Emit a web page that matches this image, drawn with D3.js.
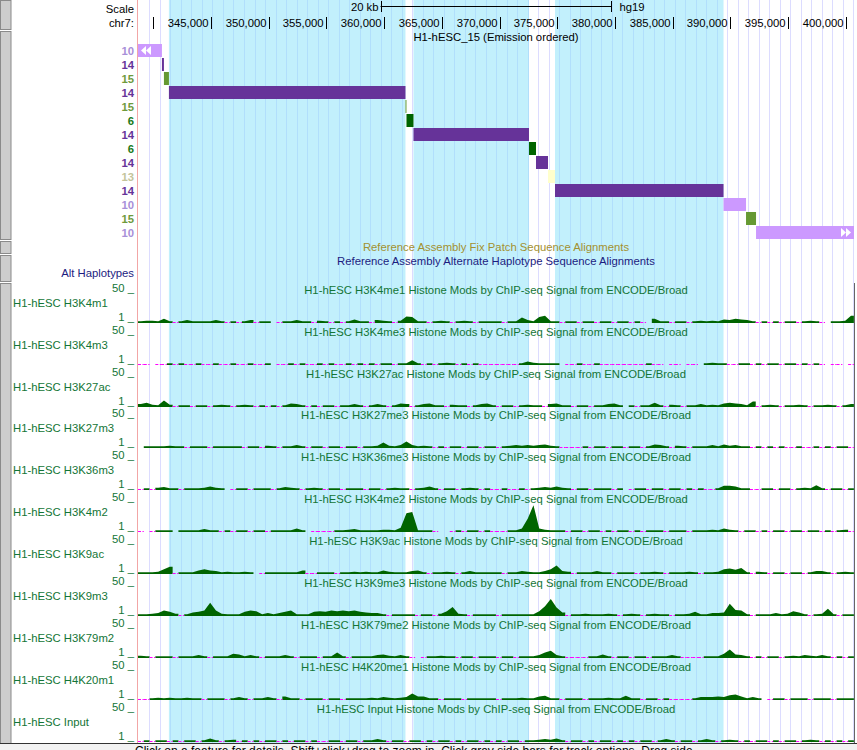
<!DOCTYPE html>
<html><head><meta charset="utf-8">
<script src="https://cdn.jsdelivr.net/npm/d3@7"></script>
<style>
html,body{margin:0;padding:0;background:#fff;}
svg{display:block;font-family:"Liberation Sans",Arial,Helvetica,sans-serif;}
</style></head><body>
<svg id="c" width="857" height="750"></svg>
<script>
// ---------------- data ----------------
const chromName = "chr7:";
const assembly = "hg19";
const viewStart = 338690, viewEnd = 400700;
const rulerTicks = [340000,345000,350000,355000,360000,365000,370000,375000,380000,385000,390000,395000,400000];
const scaleBarKb = 20;
const guideStart = 339680, guideStep = 910;

const stateTrackTitle = "H1-hESC_15 (Emission ordered)";
const stateRows   = [10, 14, 15, 14, 15, 6, 14, 6, 14, 13, 14, 10, 15, 10];
const stateStarts = [337000, 340763, 340936, 341369, 361855, 361942, 362548, 372552, 373159, 374198, 374805, 389400, 391349, 392215];
const stateEnds   = [340763, 340936, 341369, 361855, 361942, 362548, 372552, 373159, 374198, 374805, 389400, 391349, 392215, 402000];
const stateColors = {6:"#006400", 10:"#cc99ff", 13:"#ffffcc", 14:"#663399", 15:"#669933"};
const stateLabelColors = {6:"#1a7a1a", 10:"#a88fd8", 13:"#c4c49a", 14:"#663399", 15:"#6f9a3c"};

const highlightStarts = [341369, 362548, 374805];
const highlightEnds   = [361855, 372552, 389400];

const fixPatchTitle = "Reference Assembly Fix Patch Sequence Alignments";
const altHapTitle = "Reference Assembly Alternate Haplotype Sequence Alignments";
const altHapLabel = "Alt Haplotypes";

const trackLabels = ["H1-hESC H3K4m1","H1-hESC H3K4m3","H1-hESC H3K27ac","H1-hESC H3K27m3","H1-hESC H3K36m3","H1-hESC H3K4m2","H1-hESC H3K9ac","H1-hESC H3K9m3","H1-hESC H3K79m2","H1-hESC H4K20m1","H1-hESC Input"];
const trackMarks = ["H3K4me1","H3K4me3","H3K27ac","H3K27me3","H3K36me3","H3K4me2","H3K9ac","H3K9me3","H3K79me2","H4K20me1","Input"];
const viewMin = 1, viewMax = 50;

// signal in 500 bp bins from viewStart; 0 = below view minimum, null = no data
const binSize = 500;
const sigH3K4me1 = [3,4,4,3,7,3,0,3,5,3, 3,2,3,5,3,0,3,0,3,5, 0,3,3,null,0,3,3,5,3,3, 0,4,3,0,3,0,3,6,3,3,
  0,5,4,3,0,4,11,10,3,3, 0,3,4,3,0,3,4,3,0,3, 3,3,3,0,3,3,9,5,3,10, 12,3,3,0,3,3,0,3,3,0,
  3,3,0,3,3,0,3,0,null,7, 3,3,0,3,3,0,3,4,3,4, 3,6,5,7,6,5,3,0,3,0, 3,0,3,3,0,3,4,3,0,null, 3,3,4,12];
const sigH3K4me3 = [0,0,null,0,0,2,0,2,0,0, 2,0,0,2,0,0,2,0,0,2, 0,0,2,null,0,0,2,0,2,0, 0,2,0,2,0,0,2,0,3,0,
  2,0,2,3,0,2,3,8,3,0, 2,0,3,4,2,0,2,0,2,0, 0,0,0,0,0,0,2,6,4,3, 3,2,3,null,0,0,2,0,0,3,
  0,0,0,0,0,0,0,0,2,0, 0,null,0,0,null,0,0,null,2,4, 3,2,0,0,3,2,0,2,0,2, 2,0,2,2,0,2,0,2,0,null, 0,0,null,0];
const sigH3K27ac = [5,7,4,3,11,4,0,3,2,0, 3,3,0,3,4,3,0,3,4,3, 0,3,0,3,0,3,6,5,3,0, 3,0,3,3,0,3,3,5,3,0,
  3,5,3,0,3,6,5,0,3,5, 6,3,3,0,4,3,3,0,3,5, 6,3,0,3,3,0,3,4,3,3, 0,5,6,3,3,0,3,3,0,3,
  3,5,6,3,null,3,0,3,3,7, 3,0,4,3,0,3,3,5,3,4, 3,6,7,6,5,3,9,0,3,4, 3,0,3,3,4,3,0,3,3,4, 3,0,3,5];
const sigH3K27me3 = [null,2,3,3,3,4,3,3,0,3, 3,3,0,3,3,3,2,3,0,3, 3,0,4,3,0,3,3,5,3,0, 3,3,0,3,3,0,3,3,0,3,
  3,4,9,4,3,5,11,5,3,4, 3,0,3,0,3,3,0,3,3,0, 3,3,0,3,4,5,4,5,4,5, 6,4,3,0,0,0,0,3,0,3,
  3,0,3,3,0,3,3,0,3,6, 5,3,0,4,3,0,3,3,3,5, 3,6,4,5,3,3,0,3,0,2, 0,3,0,0,3,0,0,3,0,3, 0,3,3,0];
const sigH3K36me3 = [0,3,0,4,5,3,3,0,3,3, 3,4,6,4,3,null,0,3,3,0, 3,3,3,0,3,5,4,3,0,3, 4,3,0,3,3,0,3,3,3,0,
  3,3,0,3,4,3,3,0,3,4, 6,3,0,3,3,0,3,4,3,0, 3,0,0,3,0,0,3,0,3,4, 5,4,6,4,3,0,3,3,0,3,
  3,3,0,3,null,0,3,3,0,3, 3,0,3,3,0,3,0,3,0,0, 3,7,7,6,3,3,0,0,3,3, 0,3,3,0,3,4,3,8,3,0, 3,3,0,3];
const sigH3K4me2 = [0,null,0,3,3,3,null,3,3,3, 3,5,3,3,0,3,0,3,3,0, 3,3,0,3,3,3,3,6,3,null, 0,0,0,0,3,3,4,5,3,3,
  3,3,4,4,3,7,31,33,3,3, 3,0,null,null,0,3,0,3,3,0, 3,0,0,0,3,3,6,22,44,6, 4,3,3,3,0,3,3,0,3,3,
  0,3,0,3,3,0,3,0,3,3, 3,0,3,3,3,0,3,3,3,4, 3,6,4,3,0,3,3,0,3,0, 3,3,0,3,3,0,3,3,0,3, 0,3,4,0];
const sigH3K9ac = [3,3,3,4,8,12,0,3,3,3, 6,8,6,5,3,4,3,3,4,3, null,0,3,3,3,3,3,3,6,0, 0,3,3,3,0,3,3,4,3,4,
  3,3,6,4,3,3,3,5,6,3, 0,3,3,4,3,0,3,5,3,3, 3,3,3,0,3,3,5,4,3,3, 5,8,14,5,4,0,3,3,3,5,
  3,3,0,3,3,3,0,3,3,4, 3,0,3,3,3,4,3,0,3,3, 4,8,9,7,10,3,0,4,3,0, 3,3,0,3,3,0,3,5,5,3, 0,3,4,3];
const sigH3K9me3 = [3,3,4,5,9,7,4,0,3,6, 7,9,22,9,4,3,3,3,7,9, 8,3,5,3,5,7,9,3,3,3, 7,8,7,9,8,9,8,9,7,6,
  5,5,3,0,3,3,3,3,0,3, 3,0,4,8,15,4,3,0,3,3, 3,3,0,3,3,3,3,3,3,8, 16,28,14,6,0,3,3,4,3,3,
  3,4,3,0,3,4,3,0,3,4, 3,3,0,3,3,4,7,3,3,5, 5,6,20,10,9,3,0,3,3,3, 5,3,4,8,6,3,0,3,4,12, 3,0,3,3];
const sigH3K79me2 = [4,3,0,3,3,3,0,3,3,3, 5,3,0,3,3,3,7,6,3,5, 3,0,3,3,3,5,3,0,3,3, 3,0,3,3,9,3,0,3,3,3,
  3,5,6,4,3,5,3,0,null,0, 3,3,4,3,3,0,3,3,0,3, 3,3,0,3,3,0,3,3,3,5, 9,12,5,3,0,0,0,0,3,3,
  6,3,0,3,3,0,3,3,0,3, 3,3,5,3,0,0,0,0,3,3, 3,7,14,6,5,3,0,3,0,3, 3,0,3,4,3,5,4,3,5,3, 0,3,0,3];
const sigH4K20me1 = [0,0,3,4,3,4,3,3,4,3, 3,0,3,3,3,0,3,5,3,0, 3,3,5,3,0,6,3,3,0,3, 3,3,0,3,3,0,3,3,3,3,
  4,3,5,4,3,4,5,11,6,6, 3,3,0,3,3,3,0,3,3,3, 3,3,0,3,3,3,4,3,3,6, 7,3,3,0,3,3,3,0,3,3,
  3,4,3,3,7,3,3,0,3,3, 0,3,0,0,0,0,3,5,5,5, 6,5,8,9,6,3,5,3,null,0, 3,3,0,3,3,3,0,3,3,3, 0,3,3,3];
const sigInput = [0,3,0,3,3,0,3,0,3,3, 0,3,6,3,0,3,4,0,3,0, 3,0,3,3,0,3,0,3,3,0, 3,0,0,3,3,0,3,3,0,3,
  3,5,3,0,3,3,0,3,3,0, 3,0,3,3,0,3,0,3,3,0, 3,0,3,0,3,3,0,3,3,4, 5,4,6,3,0,3,3,0,3,0,
  3,3,0,3,0,3,0,3,3,0, 3,5,3,0,3,3,0,3,5,3, 0,3,4,3,0,3,0,3,3,0, 3,0,3,3,0,3,4,3,0,3, 0,3,0,3];
const signals = [sigH3K4me1,sigH3K4me3,sigH3K27ac,sigH3K27me3,sigH3K36me3,sigH3K4me2,sigH3K9ac,sigH3K9me3,sigH3K79me2,sigH4K20me1,sigInput];

const footerText = "Click on a feature for details. Shift+click+drag to zoom in. Click gray side bars for track options. Drag side";

// ---------------- drawing ----------------
const W = 857, H = 750, dataL = 138, dataR = 854, bottomY = 743;
const FS = 11.3;
const svg = d3.select("#c");
const x = d3.scaleLinear().domain([viewStart, viewEnd]).range([dataL, dataR]);
const fmt = d3.format(",");

svg.append("rect").attr("width", W).attr("height", H).attr("fill", "#fff");

svg.append("defs").append("clipPath").attr("id","dataClip")
  .append("rect").attr("x", dataL).attr("y", 0).attr("width", dataR - dataL).attr("height", bottomY);

// guidelines
const guides = d3.range(guideStart, viewEnd, guideStep);
svg.append("g").selectAll("line").data(guides).join("line")
  .attr("x1", d => Math.round(x(d)) + 0.5).attr("x2", d => Math.round(x(d)) + 0.5)
  .attr("y1", 0).attr("y2", bottomY)
  .attr("stroke", "#dcdcff").attr("stroke-width", 1);

// highlights
svg.append("g").selectAll("rect").data(d3.range(highlightStarts.length)).join("rect")
  .attr("x", i => x(highlightStarts[i])).attr("y", 0)
  .attr("width", i => x(highlightEnds[i]) - x(highlightStarts[i])).attr("height", bottomY)
  .attr("fill", "rgb(133,225,249)").attr("fill-opacity", 0.5);

// red separator line
svg.append("line").attr("x1", dataL - 0.5).attr("x2", dataL - 0.5).attr("y1", 0).attr("y2", bottomY)
  .attr("stroke", "#f2a6a6");

// side buttons
const btnSegs = [[0,29],[31,239],[241,253],[255,281],[283,743]];
svg.append("g").selectAll("rect").data(btnSegs).join("rect")
  .attr("x", 0.5).attr("y", d => d[0] + 0.5).attr("width", 10.5).attr("height", d => d[1] - d[0])
  .attr("fill", "#cdcdcd").attr("stroke", "#8a8a8a");

const T = (sel) => sel.attr("font-size", FS);

// ruler
T(svg.append("text")).attr("x", 134).attr("y", 13).attr("text-anchor", "end").text("Scale");
T(svg.append("text")).attr("x", 134).attr("y", 27).attr("text-anchor", "end").text(chromName);
const mid = (viewStart + viewEnd) / 2;
const sb1 = x(mid - scaleBarKb * 500), sb2 = x(mid + scaleBarKb * 500);
const sbg = svg.append("g");
sbg.append("line").attr("x1", sb1).attr("x2", sb2).attr("y1", 6.5).attr("y2", 6.5).attr("stroke", "#000");
sbg.append("line").attr("x1", Math.round(sb1)+0.5).attr("x2", Math.round(sb1)+0.5).attr("y1", 1).attr("y2", 12).attr("stroke", "#000");
sbg.append("line").attr("x1", Math.round(sb2)+0.5).attr("x2", Math.round(sb2)+0.5).attr("y1", 1).attr("y2", 12).attr("stroke", "#000");
T(sbg.append("text")).attr("x", sb1 - 2).attr("y", 11).attr("text-anchor", "end").text(scaleBarKb + " kb");
T(sbg.append("text")).attr("x", sb2 + 8).attr("y", 11).text(assembly);

const tg = svg.append("g");
rulerTicks.forEach(t => {
  const xt = Math.round(x(t)) + 0.5;
  tg.append("line").attr("x1", xt).attr("x2", xt).attr("y1", 17).attr("y2", 29).attr("stroke", "#000");
  const lbl = fmt(t);
  if (xt - 3 - lbl.length * 6 > dataL)
    T(tg.append("text")).attr("x", xt - 3).attr("y", 27).attr("text-anchor", "end").text(lbl);
});

// chromatin state track
T(svg.append("text")).attr("x", (dataL + dataR) / 2).attr("y", 41).attr("text-anchor", "middle").text(stateTrackTitle);
const rowY = k => 44 + 14 * k;
const sgp = svg.append("g").attr("clip-path", "url(#dataClip)");
sgp.selectAll("rect").data(d3.range(stateRows.length)).join("rect")
  .attr("x", k => x(stateStarts[k])).attr("width", k => Math.max(1, x(stateEnds[k]) - x(stateStarts[k])))
  .attr("y", k => rowY(k)).attr("height", 13)
  .attr("fill", k => stateColors[stateRows[k]]);
svg.append("g").selectAll("text").data(d3.range(stateRows.length)).join("text")
  .attr("x", 134).attr("y", k => rowY(k) + 10.5).attr("text-anchor", "end")
  .attr("font-size", FS).attr("font-weight", "bold")
  .attr("fill", k => stateLabelColors[stateRows[k]]).text(k => stateRows[k]);
// continuation arrows
function arrows(x0, yTop, dir) {
  const g = svg.append("g");
  for (let j = 0; j < 2; j++) {
    const a = x0 + j * 5;
    const pts = dir < 0
      ? [[a, yTop + 6.5], [a + 5, yTop + 2], [a + 5, yTop + 11]]
      : [[a + 5, yTop + 6.5], [a, yTop + 2], [a, yTop + 11]];
    g.append("path").attr("d", d3.line()(pts) + "Z").attr("fill", "#fff");
  }
}
arrows(dataL + 3, rowY(0), -1);
arrows(dataR - 13, rowY(13), 1);

// fix patch / alt haplotypes
svg.append("text").attr("x", (dataL + dataR) / 2).attr("y", 251).attr("text-anchor", "middle")
  .attr("font-size", FS).attr("fill", "#a39030").text(fixPatchTitle);
svg.append("text").attr("x", (dataL + dataR) / 2).attr("y", 265).attr("text-anchor", "middle")
  .attr("font-size", FS).attr("fill", "#1c1c80").text(altHapTitle);
svg.append("text").attr("x", 134).attr("y", 277).attr("text-anchor", "end")
  .attr("font-size", FS).attr("fill", "#1c1c80").text(altHapLabel);

// signal tracks
const green = "#006400", textGreen = "#137536";
const binX0 = i => x(viewStart + i * binSize);
const binX1 = i => x(viewStart + (i + 1) * binSize);
const binXc = i => x(viewStart + (i + 0.5) * binSize);

signals.forEach((vals, ti) => {
  const B = Math.round(321.6 + 41.95 * ti) + 0.5;
  const y = d3.scaleLinear().domain([viewMin, viewMax]).range([B, B - 30]);
  const g = svg.append("g").attr("clip-path", "url(#dataClip)");
  const runs = [];
  let cur = null;
  vals.forEach((v, i) => {
    if (v !== null && v >= viewMin) { if (!cur) { cur = []; runs.push(cur); } cur.push(i); }
    else cur = null;
  });
  const area = d3.area().x(d => d[0]).y0(B + 0.5).y1(d => Math.min(y(d[1]), B - 1.2));
  runs.forEach(r => {
    const pts = [[binX0(r[0]), vals[r[0]]]];
    r.forEach(i => pts.push([binXc(i), vals[i]]));
    pts.push([binX1(r[r.length - 1]), vals[r[r.length - 1]]]);
    g.append("path").attr("d", area(pts)).attr("fill", green);
  });
  g.selectAll("line.m").data(vals.map((v, i) => [v, i]).filter(d => d[0] !== null && d[0] < viewMin)).join("line")
    .attr("x1", d => binX0(d[1])).attr("x2", d => binX1(d[1]))
    .attr("y1", B).attr("y2", B).attr("stroke", "#ff00ff").attr("stroke-width", 1)
    .attr("stroke-dasharray", "3,1.5");

  const title = "H1-hESC " + trackMarks[ti] + " Histone Mods by ChIP-seq Signal from ENCODE/Broad";
  svg.append("text").attr("x", (dataL + dataR) / 2).attr("y", B - 29).attr("text-anchor", "middle")
    .attr("font-size", FS).attr("fill", textGreen).text(title);
  svg.append("text").attr("x", 134).attr("y", B - 30.5).attr("text-anchor", "end")
    .attr("font-size", FS).attr("fill", textGreen).text(viewMax + " _");
  svg.append("text").attr("x", 134).attr("y", B - 1.5).attr("text-anchor", "end")
    .attr("font-size", FS).attr("fill", textGreen).text(viewMin + " _");
  svg.append("text").attr("x", 13).attr("y", B - 16).attr("font-size", FS).attr("fill", textGreen).text(trackLabels[ti]);
});

// right border and footer
svg.append("line").attr("x1", dataR + 0.5).attr("x2", dataR + 0.5).attr("y1", 283).attr("y2", bottomY).attr("stroke", "#666");
svg.append("rect").attr("x", 0).attr("y", bottomY).attr("width", W).attr("height", H - bottomY).attr("fill", "#f2f2f2");
svg.append("line").attr("x1", 0).attr("x2", W).attr("y1", bottomY + 0.5).attr("y2", bottomY + 0.5).attr("stroke", "#333");
svg.append("text").attr("x", 135).attr("y", 755).attr("font-size", 12).attr("fill", "#000").text(footerText);
</script>
</body></html>
